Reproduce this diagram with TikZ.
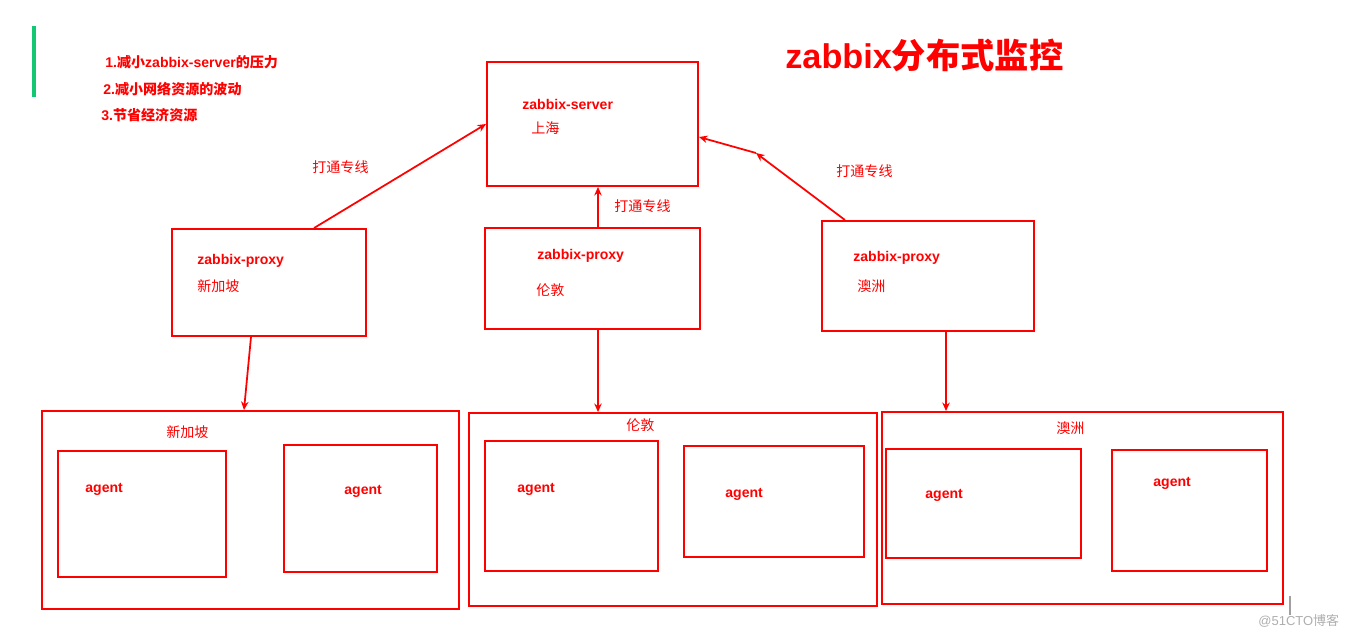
\documentclass[tikz,border=0pt]{standalone}
\usepackage{fontspec}
\setmainfont{Liberation Sans}
\newfontfamily\cjk{Noto Sans CJK SC}
\usepackage{xcolor}
\usetikzlibrary{positioning,arrows.meta,fit,calc}
\definecolor{lineclr}{RGB}{255,0,0}
\definecolor{barclr}{RGB}{20,200,115}
\definecolor{markclr}{RGB}{160,160,160}
\newcommand{\zh}[1]{{\cjk #1}}
\tikzset{
    box/.style={draw=lineclr,line width=1.1pt,inner sep=0pt},
    txt/.style={anchor=west,inner sep=0pt,text=lineclr,font=\fontsize{8}{9}\selectfont\bfseries},
    place/.style={txt,font=\fontsize{8}{9}\selectfont\cjk},
    link/.style={-{Stealth[length=1.7mm,width=1.5mm]},draw=lineclr,line width=1pt},
}
\begin{document}
\begin{tikzpicture}[x=0.02cm,y=-0.02cm]
\useasboundingbox (0,0) rectangle (1353,637);
% notes and title
\draw[barclr,line width=2.2pt] (34,26) -- (34,97);
\node[txt] (n1) at (105,62)  {1.\zh{减小}zabbix-server\zh{的压力}};
\node[txt] (n2) at (103,89)  {2.\zh{减小网络资源的波动}};
\node[txt] (n3) at (101,115) {3.\zh{节省经济资源}};
\node[txt,font=\fontsize{19.5}{22}\selectfont\bfseries] (title) at (785,55) {zabbix\zh{分布式监控}};

% server and proxies
\node[box,fit={(487,62) (698,186)}]  (srv) {};
\node[box,fit={(172,229) (366,336)}] (p1) {};
\node[box,fit={(485,228) (700,329)}] (p2) {};
\node[box,fit={(822,221) (1034,331)}] (p3) {};
\node[txt]   (srvname) at (522,104) {zabbix-server};
\node[place] (srvcity) at (531,128) {上海};
\node[txt]   (p1name) at (197,261) {zabbix-proxy};
\node[place] (p1city) at (197,286) {新加坡};
\node[txt]   (p2name) at (537,256) {zabbix-proxy};
\node[place] (p2city) at (536,290) {伦敦};
\node[txt]   (p3name) at (853,258) {zabbix-proxy};
\node[place] (p3city) at (857,286) {澳洲};

% agent groups
\node[box,fit={(42,411) (459,609)}]   (g1) {};
\node[box,fit={(469,413) (877,606)}]  (g2) {};
\node[box,fit={(882,412) (1283,604)}] (g3) {};
\node[place] (g1city) at (166,432)  {新加坡};
\node[place] (g2city) at (626,425)  {伦敦};
\node[place] (g3city) at (1056,428) {澳洲};
\node[box,fit={(58,451) (226,577)}]    (a11) {};
\node[box,fit={(284,445) (437,572)}]   (a12) {};
\node[box,fit={(485,441) (658,571)}]   (a21) {};
\node[box,fit={(684,446) (864,557)}]   (a22) {};
\node[box,fit={(886,449) (1081,558)}]  (a31) {};
\node[box,fit={(1112,450) (1267,571)}] (a32) {};
\node[txt] (a11t) at (85,489)   {agent};
\node[txt] (a12t) at (344,491)  {agent};
\node[txt] (a21t) at (517,489)  {agent};
\node[txt] (a22t) at (725,494)  {agent};
\node[txt] (a31t) at (925,495)  {agent};
\node[txt] (a32t) at (1153,483) {agent};

% links to the server
\coordinate (bend3) at (756,153);
\draw[link] ([xshift=0.9cm]p1.north) -- (srv.west);
\draw[link] ([xshift=0.11cm]p2.north) -- ([xshift=0.11cm]srv.south);
\draw[link] ([xshift=-1.66cm]p3.north) -- (bend3);
\draw[link] (bend3) -- ([yshift=-0.26cm]srv.east);
\node[place] (l1) at (312,167) {打通专线};
\node[place] (l2) at (614,206) {打通专线};
\node[place] (l3) at (836,171) {打通专线};

% proxies to groups
\draw[link] ([xshift=-0.36cm]p1.south) -- ([xshift=-0.13cm]g1.north);
\draw[link] ([xshift=0.11cm]p2.south) -- ([xshift=-1.5cm]g2.north);
\draw[link] ([xshift=0.36cm]p3.south) -- ([xshift=-2.73cm]g3.north);

% watermark
\draw[markclr,line width=0.6pt] (1290,596) -- (1290,615);
\node[anchor=west,inner sep=0pt,text=markclr!85,font=\fontsize{7.4}{9}\selectfont] (mark) at (1258,621) {@51CTO\zh{博客}};
\end{tikzpicture}
\end{document}
